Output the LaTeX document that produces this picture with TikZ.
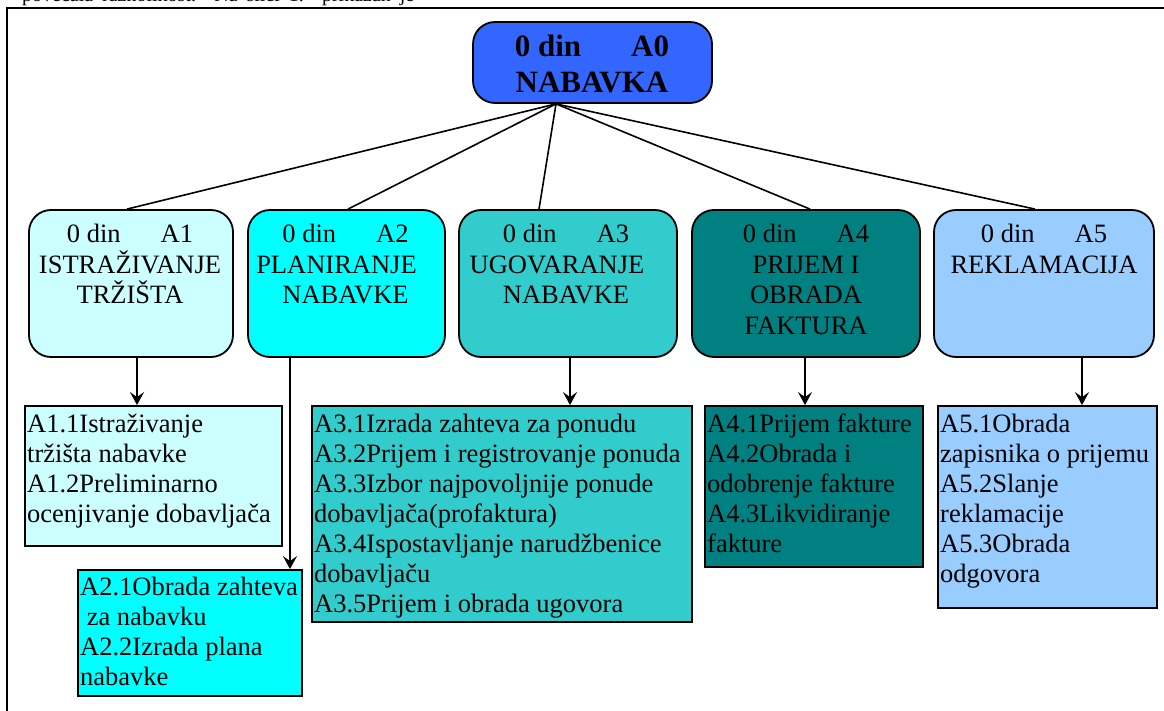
\documentclass[tikz,border=0pt]{standalone}
\usepackage{fontspec}
\setmainfont{Liberation Serif}
\usetikzlibrary{arrows.meta}
\definecolor{cA0}{HTML}{3366FF}
\definecolor{cA1}{HTML}{CCFFFF}
\definecolor{cA2}{HTML}{00FFFF}
\definecolor{cA3}{HTML}{33CCCC}
\definecolor{cA4}{HTML}{008080}
\definecolor{cA5}{HTML}{99CCFF}
\newcommand{\linesC}[1]{\vtop{\halign{\hfil##\hfil\cr#1\crcr}}}
\newcommand{\linesL}[1]{\vtop{\halign{##\hfil\cr#1\crcr}}}
\tikzset{
  topbox/.style={draw, line width=1.8pt, rounded corners=22pt, inner sep=0pt},
  subbox/.style={draw, line width=1.8pt, inner sep=0pt},
  ttext/.style={inner sep=0pt, anchor=base, font=\fontsize{26.5}{30.5}\selectfont},
  stext/.style={inner sep=0pt, anchor=base west, font=\fontsize{26.5}{30}\selectfont},
  link/.style={line width=1.6pt},
  arr/.style={line width=1.6pt, -{Stealth[length=13pt,width=14pt,inset=5pt]}}
}
\begin{document}
\begin{tikzpicture}[x=1pt,y=-1pt]
\useasboundingbox (0,0) rectangle (1164,711);
\begin{scope}
\clip (0,0) rectangle (1164,711);
\node[inner sep=0pt, anchor=base west, font=\fontsize{20}{24}\selectfont] (cut) at (22,1.5)
  {\makebox[392pt][s]{povećala raznolikost. Na slici 1. prikazan je}};
\end{scope}
% frame
\draw[line width=2.2pt] (7,712) -- (7,8) -- (1165,8);
% top node
\node[topbox, fill=cA0, minimum width=239pt, minimum height=81pt] (A0) at (592.5,62.5) {};
\node[inner sep=0pt, anchor=base, font=\fontsize{31}{36}\selectfont\bfseries] (A0t) at (592,57)
  {\linesC{0 din\hspace{50pt}A0\cr NABAVKA}};
% level-1 boxes
\node[topbox, fill=cA1, minimum width=204pt, minimum height=147pt] (A1) at (131,283.5) {};
\node[topbox, fill=cA2, minimum width=197pt, minimum height=147pt] (A2) at (346.5,283.5) {};
\node[topbox, fill=cA3, minimum width=218pt, minimum height=147pt] (A3) at (568,283.5) {};
\node[topbox, fill=cA4, minimum width=228pt, minimum height=147pt] (A4) at (806,283.5) {};
\node[topbox, fill=cA5, minimum width=220pt, minimum height=147pt] (A5) at (1044,283.5) {};
\node[ttext] (A1t) at (130,243) {\linesC{0 din\hspace{40pt}A1\cr ISTRAŽIVANJE\cr TRŽIŠTA}};
\node[ttext] (A2t) at (345.5,243) {\linesC{0 din\hspace{40pt}A2\cr PLANIRANJE\hskip18pt\cr NABAVKE}};
\node[ttext] (A3t) at (566,243) {\linesC{0 din\hspace{40pt}A3\cr UGOVARANJE\hskip18pt\cr NABAVKE}};
\node[ttext] (A4t) at (806,243) {\linesC{0 din\hspace{40pt}A4\cr PRIJEM I\cr OBRADA\cr FAKTURA}};
\node[ttext] (A5t) at (1044,243) {\linesC{0 din\hspace{40pt}A5\cr REKLAMACIJA}};
% sub boxes
\node[subbox, fill=cA1, minimum width=257pt, minimum height=140pt] (S1) at (153.5,476) {};
\node[subbox, fill=cA2, minimum width=224pt, minimum height=126pt] (S2) at (190,633) {};
\node[subbox, fill=cA3, minimum width=380pt, minimum height=216pt] (S3) at (502,514) {};
\node[subbox, fill=cA4, minimum width=218pt, minimum height=161pt] (S4) at (814,486.5) {};
\node[subbox, fill=cA5, minimum width=219pt, minimum height=202pt] (S5) at (1047.5,507) {};
\node[stext] (S1t) at (27,432) {\linesL{A1.1Istraživanje\cr tržišta nabavke\cr A1.2Preliminarno\cr ocenjivanje dobavljača}};
\node[stext] (S2t) at (80,595) {\linesL{A2.1Obrada zahteva\cr \hskip6.6pt za nabavku\cr A2.2Izrada plana\cr nabavke}};
\node[stext] (S3t) at (314,432) {\linesL{A3.1Izrada zahteva za ponudu\cr A3.2Prijem i registrovanje ponuda\cr A3.3Izbor najpovoljnije ponude\cr dobavljača(profaktura)\cr A3.4Ispostavljanje narudžbenice\cr dobavljaču\cr A3.5Prijem i obrada ugovora}};
\node[stext] (S4t) at (707,432) {\linesL{A4.1Prijem fakture\cr A4.2Obrada i\cr odobrenje fakture\cr A4.3Likvidiranje\cr fakture}};
\node[stext] (S5t) at (940,432) {\linesL{A5.1Obrada\cr zapisnika o prijemu\cr A5.2Slanje\cr reklamacije\cr A5.3Obrada\cr odgovora}};
% tree links
\draw[link] ([xshift=-36.5pt]A0.south) -- ([xshift=-4pt]A1.north);
\draw[link] ([xshift=-36.5pt]A0.south) -- ([xshift=1.5pt]A2.north);
\draw[link] ([xshift=-36.5pt]A0.south) -- ([xshift=-29pt]A3.north);
\draw[link] ([xshift=-36.5pt]A0.south) -- ([xshift=4pt]A4.north);
\draw[link] ([xshift=-36.5pt]A0.south) -- ([xshift=-9pt]A5.north);
% arrows
\draw[arr] ([xshift=6pt]A1.south) -- ([xshift=6pt]A1.south |- S1.north);
\draw[arr] ([xshift=-56.5pt]A2.south) -- ([xshift=-56.5pt]A2.south |- S2.north);
\draw[arr] ([xshift=2pt]A3.south) -- ([xshift=2pt]A3.south |- S3.north);
\draw[arr] ([xshift=-1pt]A4.south) -- ([xshift=-1pt]A4.south |- S4.north);
\draw[arr] ([xshift=38pt]A5.south) -- ([xshift=38pt]A5.south |- S5.north);
\end{tikzpicture}
\end{document}
